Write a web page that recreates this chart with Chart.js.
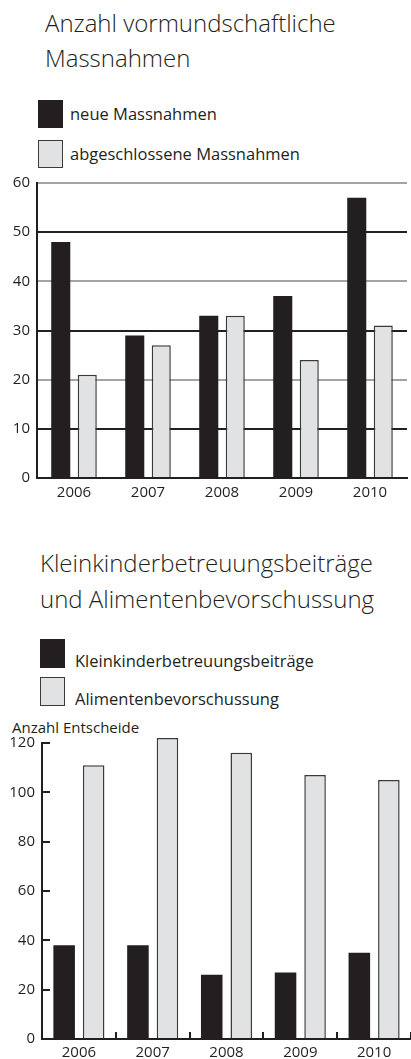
<!DOCTYPE html>
<html>
<head>
<meta charset="utf-8">
<script src="https://cdn.jsdelivr.net/npm/chart.js@4/dist/chart.umd.min.js"></script>
<style>
  html, body { margin: 0; padding: 0; background: #fff; }
  body { width: 411px; height: 1059px; position: relative; overflow: hidden;
         font-family: 'Open Sans', sans-serif; color: #231f20; }
  .title { position: absolute; font-size: 24px; font-weight: 300; white-space: nowrap; color: #231f20; }
  .legend { position: absolute; }
  .legend .row { display: flex; white-space: nowrap; font-size: 16.5px; }
  .legend .box { box-sizing: border-box; flex: none; }
  .legend span { line-height: 16px; }
  .note { position: absolute; font-size: 15px; line-height: 15px; white-space: nowrap; }
  canvas { position: absolute; left: 0; }
</style>
</head>
<body>
<div class="title" style="left:45px; top:5px; line-height:35px;">Anzahl vormundschaftliche<br>Massnahmen</div>
<div class="legend" id="legend1" style="left:38px; top:100px;"></div>
<div style="position:absolute; left:0; top:170px; width:411px; height:330px;"><canvas id="c1"></canvas></div>

<div class="title" style="left:40px; top:545px; line-height:36px;">Kleinkinderbetreuungsbeiträge<br>und Alimentenbevorschussung</div>
<div class="legend" id="legend2" style="left:40px; top:639px;"></div>
<div class="note" style="left:12px; top:720px;">Anzahl Entscheide</div>
<div style="position:absolute; left:0; top:733px; width:411px; height:326px;"><canvas id="c2"></canvas></div>

<script>
const years = ['2006', '2007', '2008', '2009', '2010'];
const neueMassnahmen = [48, 29, 33, 37, 57];
const abgeschlosseneMassnahmen = [21, 27, 33, 24, 31];
const kleinkinderbetreuung = [38, 38, 26, 27, 35];
const alimentenbevorschussung = [111, 122, 116, 107, 105];

const DARK = '#231f20';
const LIGHT = '#e1e2e3';
const EDGE = '#3a3a3a';

Chart.defaults.font.family = "'Open Sans', sans-serif";
Chart.defaults.font.size = 15;
Chart.defaults.color = DARK;

// legend built from the chart's own datasets
function htmlLegend(chart, el, opts) {
  chart.data.datasets.forEach(ds => {
    const row = document.createElement('div');
    row.className = 'row';
    row.style.height = opts.h + 'px';
    row.style.marginBottom = opts.gap + 'px';
    row.style.alignItems = opts.align;
    const box = document.createElement('div');
    box.className = 'box';
    box.style.width = opts.w + 'px';
    box.style.height = opts.h + 'px';
    box.style.background = ds.backgroundColor;
    if (ds.borderWidth) box.style.border = '1.5px solid ' + ds.borderColor;
    const txt = document.createElement('span');
    txt.textContent = ds.label;
    txt.style.marginLeft = opts.space + 'px';
    if (opts.align === 'flex-end') txt.style.marginBottom = '-1px';
    row.appendChild(box);
    row.appendChild(txt);
    el.appendChild(row);
  });
}

const chart1 = new Chart(document.getElementById('c1'), {
  type: 'bar',
  data: {
    labels: years,
    datasets: [
      { label: 'neue Massnahmen', data: neueMassnahmen, backgroundColor: DARK, borderWidth: 0 },
      { label: 'abgeschlossene Massnahmen', data: abgeschlosseneMassnahmen, backgroundColor: LIGHT, borderColor: EDGE, borderWidth: 1.5 }
    ]
  },
  options: {
    responsive: true,
    maintainAspectRatio: false,
    animation: false,
    categoryPercentage: 0.716,
    barPercentage: 0.72,
    layout: { padding: { top: 13, right: 4, left: 0, bottom: 0 } },
    plugins: { legend: { display: false }, tooltip: { enabled: false } },
    scales: {
      x: {
        grid: { drawOnChartArea: false, drawTicks: false },
        border: { color: DARK, width: 2 },
        ticks: { padding: 6, color: DARK },
        afterFit: s => { s.height = 22; }
      },
      y: {
        min: 0,
        max: 60,
        ticks: { stepSize: 10, padding: 7, color: DARK },
        grid: {
          drawTicks: false,
          lineWidth: 2,
          color: c => (c.tick && c.tick.value % 20 === 0 && c.tick.value !== 0) ? '#a4a4a4' : DARK
        },
        border: { color: DARK, width: 2 },
        afterFit: s => { s.width = 37; s.paddingTop = 0; s.paddingBottom = 0; }
      }
    }
  }
});
htmlLegend(chart1, document.getElementById('legend1'), { w: 25, h: 28, gap: 12, space: 7, align: 'center' });

const chart2 = new Chart(document.getElementById('c2'), {
  type: 'bar',
  data: {
    labels: years,
    datasets: [
      { label: 'Kleinkinderbetreuungsbeiträge', data: kleinkinderbetreuung, backgroundColor: DARK, borderWidth: 0, clip: false },
      { label: 'Alimentenbevorschussung', data: alimentenbevorschussung, backgroundColor: LIGHT, borderColor: EDGE, borderWidth: 1.5, clip: false }
    ]
  },
  options: {
    responsive: true,
    maintainAspectRatio: false,
    animation: false,
    categoryPercentage: 0.80,
    barPercentage: 0.73,
    layout: { padding: { top: 10, right: 0, left: 0, bottom: 0 } },
    plugins: { legend: { display: false }, tooltip: { enabled: false } },
    scales: {
      x: {
        grid: { drawOnChartArea: false, drawTicks: true, tickLength: -7, lineWidth: 2, color: DARK },
        border: { color: DARK, width: 2 },
        ticks: { padding: 12, color: DARK },
        afterFit: s => { s.height = 20; }
      },
      y: {
        min: 0,
        max: 120,
        ticks: { stepSize: 20, padding: 15, color: DARK },
        grid: { drawOnChartArea: false, drawTicks: true, tickLength: -8, lineWidth: 2, color: DARK },
        border: { color: DARK, width: 2 },
        afterFit: s => { s.width = 42; s.paddingTop = 0; s.paddingBottom = 0; }
      }
    }
  }
});
htmlLegend(chart2, document.getElementById('legend2'), { w: 25, h: 29, gap: 9, space: 10, align: 'flex-end' });
</script>
</body>
</html>
